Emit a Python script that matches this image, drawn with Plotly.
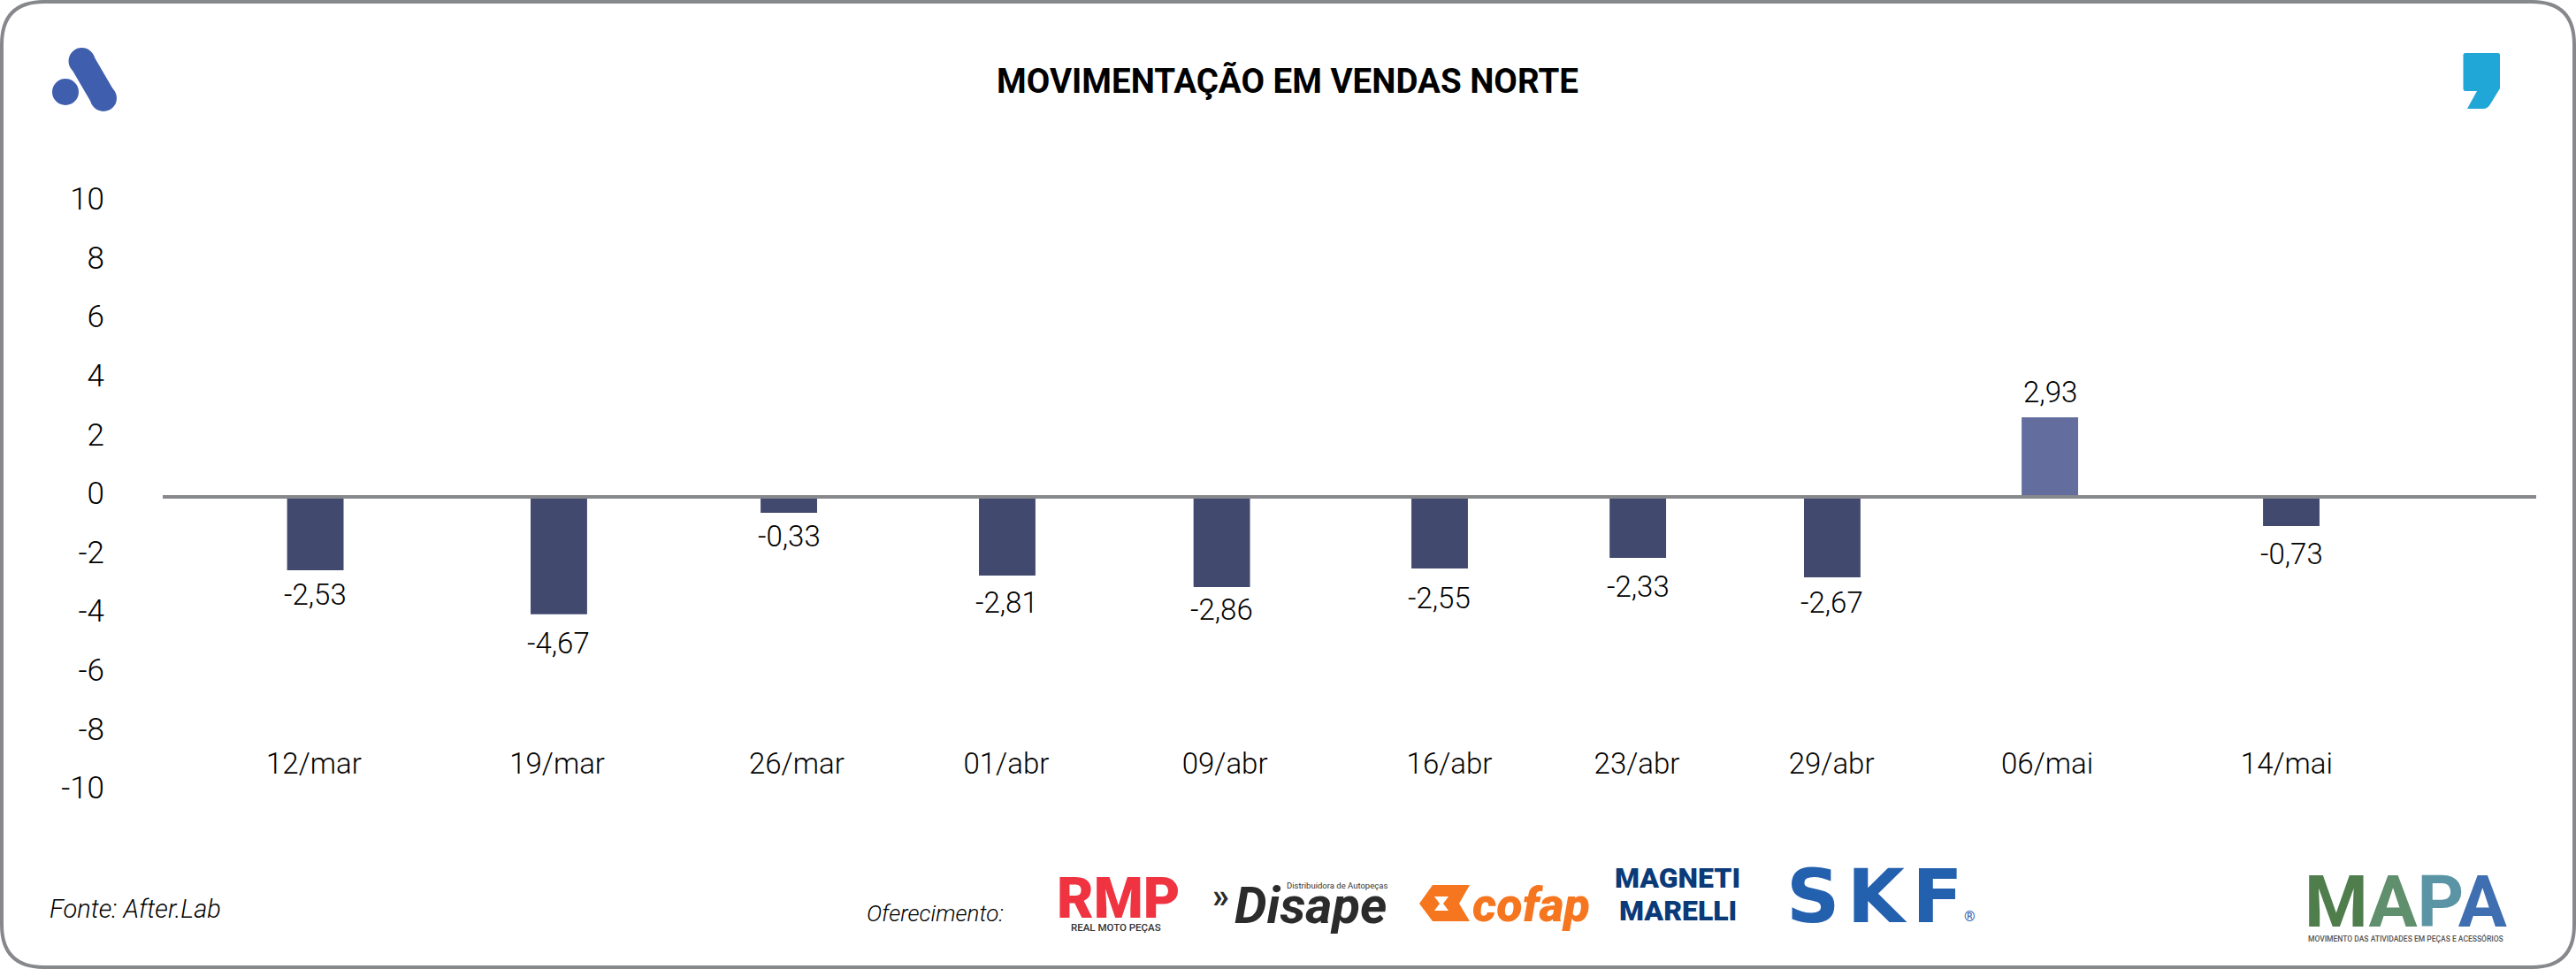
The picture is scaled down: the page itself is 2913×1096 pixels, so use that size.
import plotly.graph_objects as go

W, H = 2913, 1096

# ---- data ----
categories = ["12/mar", "19/mar", "26/mar", "01/abr", "09/abr", "16/abr", "23/abr", "29/abr", "06/mai", "14/mai"]
# printed labels
value_labels = ["-2,53", "-4,67", "-0,33", "-2,81", "-2,86", "-2,55", "-2,33", "-2,67", "2,93", "-0,73"]
# bar lengths as drawn against the y axis
bar_values = [-2.49, -3.99, -0.54, -2.67, -3.06, -2.43, -2.07, -2.73, 2.70, -0.99]
y_ticks = [10, 8, 6, 4, 2, 0, -2, -4, -6, -8, -10]

# ---- layout (x axis runs 0..100 across the plot width) ----
bar_pos = [6.43, 16.69, 26.38, 35.58, 44.62, 53.80, 62.15, 70.34, 79.51, 89.68]
tick_pos = [6.37, 16.62, 26.71, 35.54, 44.75, 54.21, 62.11, 70.31, 79.40, 89.49]
label_shift = [28, 33, 27, 31, 26, 34, 33, 29, -29, 32]
bar_width = 2.38
NEG, POS = "#414a6e", "#636e9f"
GREY = "#87888c"
BODY = "Roboto"


def fx(px):
    return px / W


def fy(py):
    return 1 - py / H


def path(cmds):
    out = []
    for c in cmds:
        if c == "Z":
            out.append("Z")
        else:
            op, *pts = c
            out.append(op + " ".join(f"{fx(pts[i]):.5f},{fy(pts[i+1]):.5f}" for i in range(0, len(pts), 2)))
    return " ".join(out)


fig = go.Figure(go.Bar(
    x=bar_pos, y=bar_values, width=bar_width,
    marker=dict(color=[POS if v > 0 else NEG for v in bar_values], line=dict(width=0)),
    hoverinfo="skip",
))

# outer frame
m, r = 2, 48
r2x, r2y = W - m, H - m
frame = path([("M", m + r, m), ("L", r2x - r, m), ("Q", r2x, m, r2x, m + r), ("L", r2x, r2y - r),
              ("Q", r2x, r2y, r2x - r, r2y), ("L", m + r, r2y), ("Q", m, r2y, m, r2y - r),
              ("L", m, m + r), ("Q", m, m, m + r, m), "Z"])
shapes = [dict(type="path", xref="paper", yref="paper", path=frame, line=dict(color=GREY, width=4))]

# zero line
shapes.append(dict(type="line", xref="x domain", yref="y", x0=0, x1=1, y0=0, y1=0,
                   line=dict(color=GREY, width=4), layer="above"))

# top-left logo
BLUE = "#3f5fae"


def circle(cx, cy, rad, color):
    return dict(type="circle", xref="paper", yref="paper", x0=fx(cx - rad), x1=fx(cx + rad),
                y0=fy(cy + rad), y1=fy(cy - rad), fillcolor=color, line=dict(width=0))


shapes += [circle(74, 104, 15, BLUE), circle(92.5, 69, 15, BLUE), circle(117, 111, 15, BLUE),
           dict(type="line", xref="paper", yref="paper", x0=fx(92.5), y0=fy(69), x1=fx(117), y1=fy(111),
                line=dict(color=BLUE, width=29))]
# top-right comma
shapes.append(dict(type="path", xref="paper", yref="paper", fillcolor="#21a6d8", line=dict(width=0),
                   path=path([("M", 2788, 60), ("L", 2825, 60), ("Q", 2827, 60, 2827, 62), ("L", 2827, 100),
                              ("L", 2816, 118), ("Q", 2813, 123, 2808, 123), ("L", 2790, 123), ("L", 2801, 103),
                              ("L", 2788, 103), ("Q", 2785.5, 103, 2785.5, 100), ("L", 2785.5, 62),
                              ("Q", 2785.5, 60, 2788, 60), "Z"])))
# cofap mark
ORANGE = "#f5761f"
shapes.append(dict(type="path", xref="paper", yref="paper", fillcolor=ORANGE, line=dict(width=0),
                   path=path([("M", 1620, 1001), ("L", 1662, 1001), ("L", 1650, 1022), ("L", 1662, 1042),
                              ("L", 1620, 1042), ("L", 1605, 1022), "Z"])))
shapes.append(dict(type="path", xref="paper", yref="paper", fillcolor="white", line=dict(width=0),
                   path=path([("M", 1622, 1014), ("L", 1638, 1014), ("L", 1632, 1022), ("L", 1638, 1030),
                              ("L", 1622, 1030), ("L", 1628, 1022), "Z"])))
NAVY = "#0b3a78"

annotations = []


def text(px, py, s, size, color="black", family=BODY, anchor="center", weight=None, style=None):
    annotations.append(dict(xref="paper", yref="paper", x=fx(px), y=fy(py), text=s, showarrow=False,
                            xanchor=anchor, yanchor="middle",
                            font=dict(family=family, size=size, color=color, weight=weight, style=style)))


# value labels, anchored on the bars
for xv, yv, lab, sh in zip(bar_pos, bar_values, value_labels, label_shift):
    annotations.append(dict(x=xv, y=yv, xref="x", yref="y", text=lab, showarrow=False, yshift=-sh,
                            xanchor="center", yanchor="middle",
                            font=dict(family=BODY, size=33, color="black", weight=300)))

# footer text
text(54, 1028, "Fonte: After.Lab", 29, anchor="left", style="italic", weight=300)
text(978, 1033, "Oferecimento:", 26, anchor="left", style="italic", weight=300)

# sponsor logos (as text)
text(1265, 1016, "RMP", 64, "#ef3340", "Roboto", weight=900)
text(1262, 1049, "REAL MOTO PEÇAS", 11.5, "#333333", "Roboto", weight=500)
text(1380, 1013, "»", 38, "#2b2b2b", "Roboto", weight=700)
text(1482, 1024, "Disape", 58, "#2b2b2b", "Roboto", weight=700, style="italic")
text(1512, 1001, "Distribuidora de Autopeças", 9.5, "#333333", "Roboto", weight=400)
text(1731, 1023, "cofap", 54, ORANGE, "Roboto", weight=900, style="italic")
text(1897, 993, "MAGNETI", 32, NAVY, "Roboto", weight=900)
text(1897, 1030, "MARELLI", 32, NAVY, "Roboto", weight=900)
text(2120, 1014, "S\u200aK\u200aF", 84, "#2360ae", "DejaVu Sans", weight=700)
text(2227, 1036, "®", 16, "#2360ae", "Roboto")
mapa = "".join(f'<span style="color:{c}">{l}</span>' for l, c in zip("MAPA", ["#4f7d4c", "#5f8f6c", "#5b94a4", "#3f6fb0"]))
text(2720, 1020, mapa, 82, family="Roboto", weight=700)
text(2720, 1061, "MOVIMENTO DAS ATIVIDADES EM PEÇAS E ACESSÓRIOS", 8.5, "#555555", "Roboto", weight=500)

fig.update_layout(
    width=W, height=H, margin=dict(l=0, r=0, t=0, b=0),
    paper_bgcolor="white", plot_bgcolor="rgba(0,0,0,0)", showlegend=False,
    title=dict(text="<b>MOVIMENTAÇÃO EM VENDAS NORTE</b>", x=1456 / W, xanchor="center", xref="paper",
               y=fy(92), yanchor="middle", yref="container",
               font=dict(family="Roboto", size=38.5, color="black")),
    shapes=shapes, annotations=annotations,
    xaxis=dict(domain=[fx(184), fx(2868)], range=[0, 100], anchor="free", position=fy(841), automargin=False,
               tickmode="array", tickvals=tick_pos, ticktext=categories,
               showgrid=False, zeroline=False, showline=False, ticks="",
               tickfont=dict(family=BODY, size=33, color="black", weight=300)),
    yaxis=dict(domain=[fy(895), fy(229)], range=[-10, 10], anchor="free", position=fx(118), automargin=False,
               tickmode="array", tickvals=y_ticks, ticktext=[str(v) for v in y_ticks],
               showgrid=False, zeroline=False, showline=False, ticks="", ticklabelshift=-4,
               tickfont=dict(family=BODY, size=35, color="black", weight=300)),
)

fig.write_html("out.html", post_script="document.body.style.margin='0';", config={"displayModeBar": False})
